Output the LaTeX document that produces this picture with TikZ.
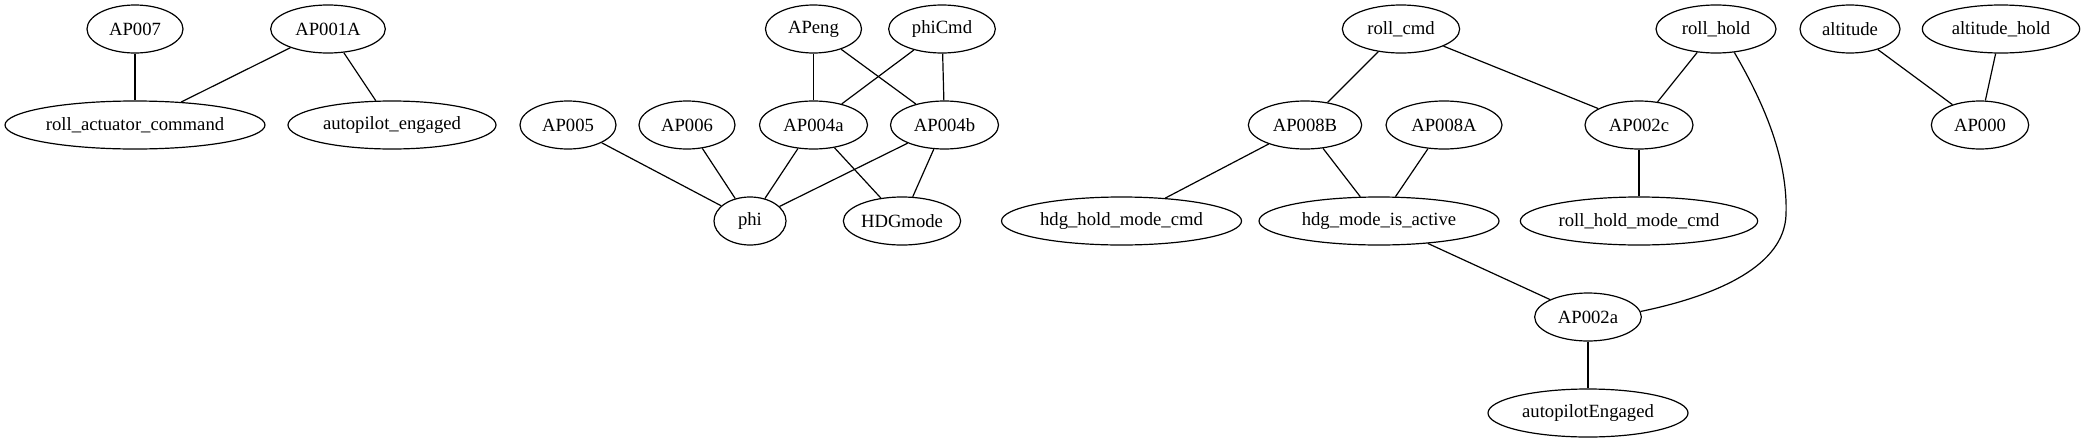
\documentclass[tikz,border=0pt]{standalone}
\usepackage{fontspec}
\setmainfont{Liberation Serif}
\usetikzlibrary{shapes.geometric}
\tikzset{
  gv/.style={ellipse, draw, line width=0.9pt, inner sep=0pt, minimum height=36pt,
    font=\fontsize{14}{16}\selectfont},
  gvedge/.style={line width=0.9pt}
}
\newcommand{\lbl}[1]{\makebox[0pt]{#1}}
\begin{document}
\begin{tikzpicture}[x=0.75pt,y=-0.75pt]
\useasboundingbox (0,0) rectangle (2085,443);
% row 1
\node[gv, minimum width=72pt]  (AP007)  at (135,29) {\lbl{AP007}};
\node[gv, minimum width=86pt]  (AP001A) at (328,29) {\lbl{AP001A}};
\node[gv, minimum width=72pt]  (APeng)  at (813.5,29) {\lbl{APeng}};
\node[gv, minimum width=80pt]  (phiCmd) at (942,29) {\lbl{phiCmd}};
\node[gv, minimum width=88pt]  (roll_cmd) at (1401,29) {\lbl{roll\_cmd}};
\node[gv, minimum width=90pt]  (roll_hold) at (1716,29) {\lbl{roll\_hold}};
\node[gv, minimum width=75pt]  (altitude) at (1850,29) {\lbl{altitude}};
\node[gv, minimum width=118pt] (altitude_hold) at (2001,29) {\lbl{altitude\_hold}};
% row 2
\node[gv, minimum width=195pt] (rac) at (135,125) {\lbl{roll\_actuator\_command}};
\node[gv, minimum width=156pt] (ape) at (392,125) {\lbl{autopilot\_engaged}};
\node[gv, minimum width=72pt]  (AP005) at (568,125) {\lbl{AP005}};
\node[gv, minimum width=72pt]  (AP006) at (687,125) {\lbl{AP006}};
\node[gv, minimum width=81pt]  (AP004a) at (813.5,125) {\lbl{AP004a}};
\node[gv, minimum width=81pt]  (AP004b) at (944.5,125) {\lbl{AP004b}};
\node[gv, minimum width=85pt]  (AP008B) at (1305,125) {\lbl{AP008B}};
\node[gv, minimum width=87pt]  (AP008A) at (1444,125) {\lbl{AP008A}};
\node[gv, minimum width=81pt]  (AP002c) at (1639,125) {\lbl{AP002c}};
\node[gv, minimum width=73pt]  (AP000) at (1980,125) {\lbl{AP000}};
% row 3
\node[gv, minimum width=54pt]  (phi) at (750,221) {\lbl{phi}};
\node[gv, minimum width=88pt]  (HDGmode) at (902,221) {\lbl{HDGmode}};
\node[gv, minimum width=180pt] (hhmc) at (1121.5,221) {\lbl{hdg\_hold\_mode\_cmd}};
\node[gv, minimum width=180pt] (hmia) at (1379,221) {\lbl{hdg\_mode\_is\_active}};
\node[gv, minimum width=178pt] (rhmc) at (1639,221) {\lbl{roll\_hold\_mode\_cmd}};
% row 4, 5
\node[gv, minimum width=80pt]  (AP002a) at (1588,317) {\lbl{AP002a}};
\node[gv, minimum width=150pt] (apE) at (1588,413) {\lbl{autopilotEngaged}};
% edges
\draw[gvedge] (AP007) -- (rac);
\draw[gvedge] (AP001A) -- (rac);
\draw[gvedge] (AP001A) -- (ape);
\draw[gvedge] (APeng) -- (AP004a);
\draw[gvedge] (APeng) -- (AP004b);
\draw[gvedge] (phiCmd) -- (AP004a);
\draw[gvedge] (phiCmd) -- (AP004b);
\draw[gvedge] (AP005) -- (phi);
\draw[gvedge] (AP006) -- (phi);
\draw[gvedge] (AP004a) -- (phi);
\draw[gvedge] (AP004b) -- (phi);
\draw[gvedge] (AP004a) -- (HDGmode);
\draw[gvedge] (AP004b) -- (HDGmode);
\draw[gvedge] (roll_cmd) -- (AP008B);
\draw[gvedge] (roll_cmd) -- (AP002c);
\draw[gvedge] (roll_hold) -- (AP002c);
\draw[gvedge] (roll_hold.-52) .. controls (1765,105) and (1788,160) .. (1786,215)
   .. controls (1784,265) and (1720,295) .. (AP002a.6);
\draw[gvedge] (AP008B) -- (hhmc);
\draw[gvedge] (AP008B) -- (hmia);
\draw[gvedge] (AP008A) -- (hmia);
\draw[gvedge] (AP002c) -- (rhmc);
\draw[gvedge] (hmia) -- (AP002a);
\draw[gvedge] (AP002a) -- (apE);
\draw[gvedge] (altitude) -- (AP000);
\draw[gvedge] (altitude_hold) -- (AP000);
\end{tikzpicture}
\end{document}
